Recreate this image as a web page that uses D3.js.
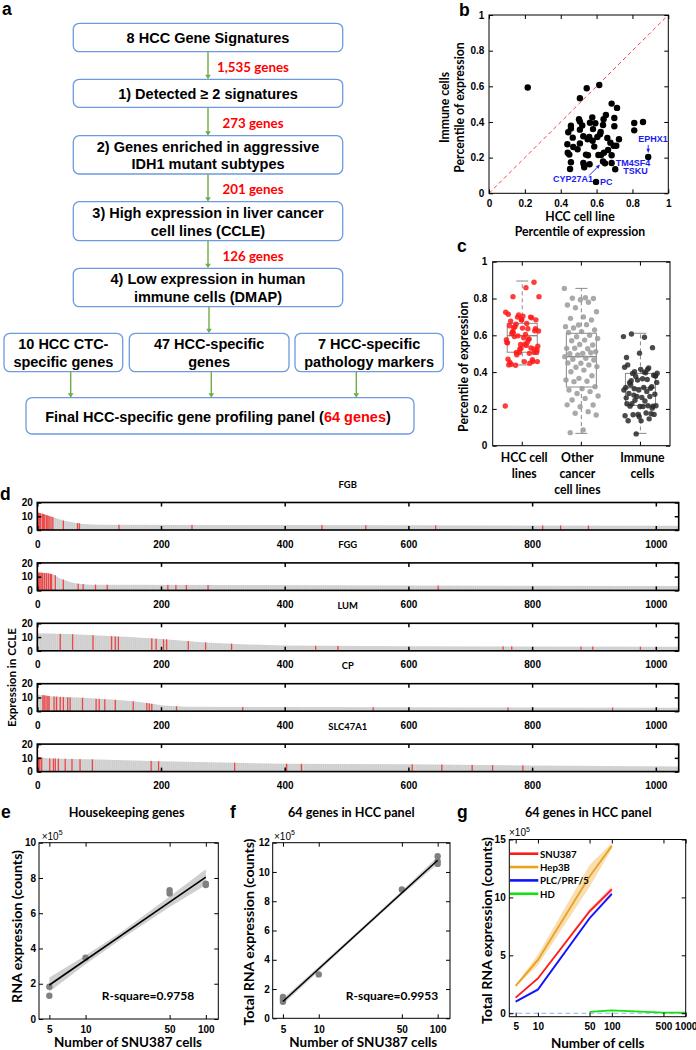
<!DOCTYPE html>
<html><head><meta charset="utf-8">
<script src="https://cdn.jsdelivr.net/npm/d3@7/dist/d3.min.js"></script>
<style>html,body{margin:0;padding:0;background:#fff}</style>
</head><body>
<svg id="fig" width="696" height="1050" xmlns="http://www.w3.org/2000/svg"></svg>
<script>
// ================= DATA =================
// Panel a
const flowSteps = ["8 HCC Gene Signatures", "1) Detected \u2265 2 signatures",
  "2) Genes enriched in aggressive\nIDH1 mutant subtypes",
  "3) High expression in liver cancer\ncell lines (CCLE)",
  "4) Low expression in human\nimmune cells (DMAP)"];
const stepCounts = ["1,535 genes", "273 genes", "201 genes", "126 genes"];
const subsetLabels = ["10 HCC CTC-\nspecific genes", "47 HCC-specific\ngenes", "7 HCC-specific\npathology markers"];
const finalLabel = ["Final HCC-specific gene profiling panel (", "64 genes", ")"];

// Panel b (percentile of expression per gene)
const hccPct = [0.216,0.545,0.615,0.507,0.684,0.714,0.502,0.507,0.457,0.457,
  0.442,0.467,0.507,0.576,0.563,0.593,0.636,0.639,0.652,0.699,
  0.699,0.623,0.604,0.619,0.526,0.550,0.559,0.578,0.437,0.507,
  0.587,0.677,0.695,0.710,0.725,0.664,0.641,0.625,0.684,0.439,
  0.448,0.494,0.541,0.552,0.610,0.457,0.526,0.561,0.636,0.647,
  0.684,0.704,0.452,0.531,0.597,0.810,0.859,0.810,0.888,0.530,
  0.47,0.58,0.66,0.52];
const immunePct = [0.593,0.589,0.607,0.533,0.503,0.479,0.415,0.402,0.379,0.364,
  0.342,0.312,0.357,0.426,0.396,0.393,0.383,0.415,0.439,0.422,
  0.376,0.344,0.316,0.331,0.320,0.303,0.316,0.295,0.275,0.280,
  0.262,0.284,0.267,0.267,0.303,0.243,0.228,0.215,0.213,0.228,
  0.217,0.247,0.217,0.213,0.215,0.174,0.170,0.163,0.178,0.168,
  0.170,0.135,0.136,0.146,0.064,0.394,0.400,0.353,0.204,0.157,
  0.26,0.36,0.31,0.38];
const bAnnot = [
  {gene:"EPHX1",   x:0.888, y:0.204},
  {gene:"TM4SF4",  x:0.684, y:0.170},
  {gene:"TSKU",    x:0.704, y:0.135},
  {gene:"CYP27A1", x:0.625, y:0.178},
  {gene:"PC",      x:0.597, y:0.064}];

// Panel c
const cCats = ["HCC cell\nlines", "Other\ncancer\ncell lines", "Immune\ncells"];
const otherPct = [0.855,0.804,0.801,0.80,0.793,0.765,0.78,0.75,0.728,0.70,0.692,0.683,0.656,0.647,0.658,0.64,
  0.629,0.62,0.615,0.60,0.592,0.583,0.574,0.57,0.547,0.55,0.529,0.527,0.53,0.511,0.502,0.50,0.505,0.493,
  0.484,0.475,0.47,0.466,0.448,0.45,0.439,0.426,0.43,0.411,0.402,0.38,0.366,0.357,0.35,0.348,0.321,
  0.31,0.303,0.294,0.284,0.27,0.257,0.248,0.221,0.212,0.222,0.185,0.176,0.167,0.085,0.071];
const boxQ1 = [0.508, 0.319, 0.219];
const boxMed = [0.598, 0.484, 0.315];
const boxQ3 = [0.665, 0.611, 0.393];
const whiskLo = [0.439, 0.067, 0.067];
const whiskHi = [0.895, 0.855, 0.611];

// Panel d (expression in CCLE, cell lines ranked)
const dGenes = ["FGB", "FGG", "LUM", "CP", "SLC47A1"];
const dProfiles = [
  [[0,12.6],[5,12.2],[15,10.8],[26,9.3],[42,6.9],[61,5.2],[74,4.4],[100,3.9],[300,3.7],[600,3.4],[1037,3.1]],
  [[0,13.0],[18,12.4],[28,11.2],[37,8.6],[53,6.1],[66,4.9],[85,4.2],[300,3.9],[600,3.6],[1037,3.2]],
  [[0,12.8],[50,12.2],[100,11.1],[150,10.0],[200,8.5],[272,6.1],[330,4.8],[400,3.8],[600,3.3],[1037,3.0]],
  [[0,12.0],[20,10.9],[74,9.8],[126,8.3],[160,7.0],[185,5.4],[205,4.2],[240,3.3],[400,3.0],[1037,2.6]],
  [[0,10.6],[20,9.6],[100,8.8],[200,7.6],[300,6.6],[400,5.7],[600,5.3],[800,4.5],[1037,3.7]]];
const dRed = [
  [[2,12.6],[3,12.4],[5,12.2],[8,11.9],[10,11.6],[12,11.3],[15,10.8],[17,10.5],[19,10.2],[22,9.8],[25,9.4],
   [42,6.9],[65,5.0],[68,4.8],[132,3.8],[250,3.7],[460,3.6],[531,3.5],[644,3.4],[817,3.3],[846,3.3],[891,3.2]],
  [[2,13.0],[4,12.9],[6,12.9],[8,12.8],[11,12.7],[12,12.7],[15,12.6],[18,12.4],[21,12.1],[23,11.9],[29,11.0],
   [42,7.9],[66,4.9],[74,4.6],[94,4.2],[113,4.1],[211,4.0],[224,4.0],[241,3.9],[276,3.9],[648,3.5]],
  [[37,12.3],[57,12.0],[90,11.3],[120,10.6],[126,10.4],[131,10.3],[185,9.0],[192,8.8],[204,8.4],[209,8.3],
   [244,7.1],[272,6.1],[314,5.2],[450,3.6],[486,3.5],[753,3.2],[767,3.2],[879,3.1],[898,3.1],[975,3.0]],
  [[9,11.7],[11,11.6],[14,11.4],[17,11.2],[19,11.0],[27,10.7],[31,10.6],[37,10.4],[42,10.3],[49,10.1],[53,10.0],
   [73,9.8],[95,9.0],[100,8.9],[109,8.6],[126,8.3],[155,7.2],[177,6.0],[181,5.7],[185,5.4],[225,3.6],[332,3.0],
   [543,2.9],[761,2.8],[930,2.7]],
  [[2,10.5],[4,10.4],[7,10.2],[20,9.6],[26,9.5],[29,9.5],[34,9.4],[45,9.3],[56,9.2],[69,9.0],[89,8.9],
   [184,7.8],[196,7.6],[319,6.5],[403,5.7],[427,5.6],[606,5.3],[654,5.1],[703,4.9],[736,4.7],[785,4.5]]];
const dXTicks = [0,200,400,600,800,1000];
const dYTicks = [0,10,20];

// Panel e (housekeeping genes, x10^5 counts)
const eCells = [5,5,10,50,50,100,100];
const eCounts = [1.83,1.32,3.48,7.30,7.12,7.67,7.60];
const eFitX = [5,100], eFitY = [1.93,8.05];
const eBandX = [5,10,20,50,100];
const eBandLo = [1.55,3.10,4.55,6.35,7.60];
const eBandHi = [2.35,3.60,4.95,6.95,8.50];
const eRsq = "R-square=0.9758";

// Panel f (64 genes, x10^5 counts)
const fCells = [5,5,5,10,50,100,100,100];
const fCounts = [1.46,1.30,1.13,3.00,8.80,11.07,10.73,10.55];
const fFitX = [5,100], fFitY = [1.15,10.8];
const fBandX = [5,10,20,50,100];
const fBandLo = [0.95,3.22,5.50,8.43,10.55];
const fBandHi = [1.35,3.54,5.74,8.71,11.05];
const fRsq = "R-square=0.9953";

// Panel g (64 genes by cell line, x10^5 counts)
const gCells = [5,10,50,100];
const gSeries = ["SNU387","Hep3B","PLC/PRF/5","HD"];
const snu387 = [1.35,3.00,8.80,10.70];
const snu387Lo = [1.28,2.88,8.60,10.45], snu387Hi = [1.42,3.12,9.00,10.95];
const hep3b = [2.36,4.60,11.8,14.45];
const hep3bLo = [2.28,4.15,10.9,14.20], hep3bHi = [2.45,5.05,12.8,14.70];
const plc = [1.00,2.05,8.20,10.30];
const plcLo = [0.95,1.90,8.05,10.15], plcHi = [1.05,2.20,8.35,10.45];
const hdCells = [50,100,500,1000];
const hd = [0.12,0.25,0.05,0.05];

// ================= DRAW =================
const ARIAL = "'Liberation Sans', Arial, Helvetica, sans-serif";
const CAL = "Lato, 'Open Sans', sans-serif";
const svg = d3.select("#fig");
svg.append("rect").attr("width",696).attr("height",1050).attr("fill","#fff");

// font size that makes string s span width w (bold)
function sizeFor(s, w, ff, base = 12) {
  const t = svg.append("text").attr("font-family", ff).attr("font-weight", "bold").attr("font-size", base).text(s);
  const L = t.node().getComputedTextLength(); t.remove();
  return L > 0 ? base * w / L : base;
}
function txt(g, x, y, s, o = {}) {
  const t = g.append("text").attr("x", x).attr("y", y).text(s)
    .attr("font-family", o.ff || ARIAL).attr("font-size", o.fs || 10)
    .attr("font-weight", o.fw || "bold").attr("fill", o.fill || "#000")
    .attr("text-anchor", o.anchor || "middle").attr("dominant-baseline", o.db || "central");
  if (o.rot) t.attr("transform", `rotate(${o.rot},${x},${y})`);
  if (o.w) { // scale font so the text spans the measured width of the reference
    const L = t.node().getComputedTextLength();
    if (L > 0) t.attr("font-size", (o.fs || 10) * o.w / L);
  }
  return t;
}
function multiline(g, cx, cy, lines, lh, o) {
  lines.forEach((l, i) => txt(g, cx, cy + (i - (lines.length - 1) / 2) * lh, l, o));
}
function axes(g, x, y, o) {
  const [x0, x1] = x.range(), [yb, yt] = y.range();
  const tl = o.tl ?? 4;
  const style = sel => {
    sel.select(".domain").remove();
    sel.selectAll("line").attr("stroke", "#000").attr("stroke-width", o.tw || 1);
    sel.selectAll("text").attr("font-family", ARIAL).attr("font-weight", "bold")
      .attr("font-size", o.fs || 10).attr("fill", "#000");
  };
  if (o.xTicks) {
    g.append("g").attr("transform", `translate(0,${yb})`)
      .call(d3.axisBottom(x).tickValues(o.xTicks).tickFormat(o.fmtX || (d => d)).tickSizeInner(-tl).tickSizeOuter(0).tickPadding(o.xPad ?? 6))
      .call(style);
    g.append("g").attr("transform", `translate(0,${yt})`)
      .call(d3.axisTop(x).tickValues(o.xTicks).tickFormat("").tickSizeInner(-tl).tickSizeOuter(0))
      .call(style);
  }
  if (o.yTicks) {
    g.append("g").attr("transform", `translate(${x0},0)`)
      .call(d3.axisLeft(y).tickValues(o.yTicks).tickFormat(o.fmtY || (d => d)).tickSizeInner(-tl).tickSizeOuter(0).tickPadding(o.yPad ?? 4))
      .call(style);
    g.append("g").attr("transform", `translate(${x1},0)`)
      .call(d3.axisRight(y).tickValues(o.yTicks).tickFormat("").tickSizeInner(-tl).tickSizeOuter(0))
      .call(style);
  }
  g.append("rect").attr("x", x0).attr("y", yt).attr("width", x1 - x0).attr("height", yb - yt)
    .attr("fill", "none").attr("stroke", "#000").attr("stroke-width", o.sw || 1);
}

// panel letters
[["a",2,15],["b",459,16],["c",457,252],["d",0,500],["e",1,818],["f",230,818],["g",457,818]]
  .forEach(([l, x, y]) => txt(svg, x, y, l, {fs: 17.5, anchor: "start", db: "auto"}));

// ---------- Panel a ----------
const A = svg.append("g");
const boxStroke = "#6c9be0", green = "#70ad47";
function rbox(x0, y0, x1, y1) {
  A.append("rect").attr("x", x0).attr("y", y0).attr("width", x1 - x0).attr("height", y1 - y0)
    .attr("rx", 6).attr("fill", "#fff").attr("stroke", boxStroke).attr("stroke-width", 1.3);
}
function arrow(x, y1, y2) {
  A.append("line").attr("x1", x).attr("x2", x).attr("y1", y1).attr("y2", y2 - 3)
    .attr("stroke", green).attr("stroke-width", 1.4);
  A.append("path").attr("d", `M${x - 2.8},${y2 - 4.5}L${x + 2.8},${y2 - 4.5}L${x},${y2}Z`).attr("fill", green);
}
const stepBoxY = [[23.3,51.7],[79.3,107.3],[135.7,174],[201.7,240.7],[268.3,306.7]];
const boxText = {fs: 14.5};
const countFs = sizeFor("1,535 genes", 72, CAL);
flowSteps.forEach((s, i) => {
  const [y0, y1] = stepBoxY[i];
  rbox(73.3, y0, 342.7, y1);
  multiline(A, 208, (y0 + y1) / 2 + 0.5, s.split("\n"), 17.6, boxText);
  if (i < flowSteps.length - 1) {
    arrow(208, y1, stepBoxY[i + 1][0]);
    txt(A, 253, (y1 + stepBoxY[i + 1][0]) / 2 + 1, stepCounts[i], {ff: CAL, fs: countFs, fill: "#ff0000"});
  }
});
const subX = [[4,122.7],[129.3,289],[295,443.3]];
arrow(209, 306.7, 333.3);
subsetLabels.forEach((s, i) => {
  const [x0, x1] = subX[i];
  rbox(x0, 333.3, x1, 371.7);
  multiline(A, (x0 + x1) / 2, 353, s.split("\n"), 17.6, boxText);
});
rbox(26, 397.7, 414, 434);
[70.7, 211.3, 356.3].forEach(x => arrow(x, 371.7, 397.7));
{
  const t = A.append("text").attr("x", 218).attr("y", 416.5).attr("text-anchor", "middle")
    .attr("dominant-baseline", "central").attr("font-family", ARIAL).attr("font-weight", "bold").attr("font-size", 14.5);
  finalLabel.forEach((p, i) => t.append("tspan").text(p).attr("fill", i === 1 ? "#ff0000" : "#000"));
}

// ---------- Panel b ----------
const B = svg.append("g");
const bx = d3.scaleLinear([0, 1], [489, 668.3]), by = d3.scaleLinear([0, 1], [193.3, 15]);
const pctFmt = d => String(+d.toFixed(1));
const titleFsB = sizeFor("Percentile of expression", 130.5, CAL);
B.append("line").attr("x1", bx(0)).attr("y1", by(0)).attr("x2", bx(1)).attr("y2", by(1))
  .attr("stroke", "#ff4040").attr("stroke-width", 1).attr("stroke-dasharray", "4,3");
B.selectAll("circle.pt").data(hccPct).join("circle").attr("class", "pt")
  .attr("cx", d => bx(d)).attr("cy", (d, i) => by(immunePct[i])).attr("r", 3.2).attr("fill", "#000");
axes(B, bx, by, {xTicks: [0,.2,.4,.6,.8,1], yTicks: [0,.2,.4,.6,.8,1], fmtX: pctFmt, fmtY: pctFmt, xPad: 6.4, yPad: 4.7});
const blue = "#1c1cf0";
const annOff = {EPHX1: [-10, -18, "start"], TM4SF4: [4, 0, "start"], TSKU: [8, 2, "start"], CYP27A1: [-48, 17, "start"], PC: [4, 0.5, "start"]};
bAnnot.forEach(a => {
  const px = bx(a.x), py = by(a.y), [dx, dy, an] = annOff[a.gene];
  txt(B, px + dx, py + dy, a.gene, {fs: 9, fill: blue, anchor: an});
});
function barrow(x1, y1, x2, y2) {
  const ang = Math.atan2(y2 - y1, x2 - x1);
  B.append("line").attr("x1", x1).attr("y1", y1).attr("x2", x2 - 3 * Math.cos(ang)).attr("y2", y2 - 3 * Math.sin(ang))
    .attr("stroke", blue).attr("stroke-width", 0.9);
  const p = (r, da) => [x2 - r * Math.cos(ang + da), y2 - r * Math.sin(ang + da)];
  B.append("path").attr("d", `M${x2},${y2}L${p(4.5, 0.4)}L${p(4.5, -0.4)}Z`).attr("fill", blue);
}
{
  const e = bAnnot[0]; barrow(bx(e.x), by(e.y) - 12, bx(e.x), by(e.y) - 4);
  const c = bAnnot[3]; barrow(bx(c.x) - 12, by(c.y) + 14, bx(c.x) - 1, by(c.y) + 3);
}
txt(B, 444, 107.5, "Immune cells", {ff: CAL, fs: titleFsB, rot: -90});
txt(B, 459, 107.5, "Percentile of expression", {ff: CAL, fs: titleFsB, rot: -90});
txt(B, 580, 216, "HCC cell line", {ff: CAL, fs: titleFsB});
txt(B, 580, 231.5, "Percentile of expression", {ff: CAL, fs: titleFsB});

// ---------- Panel c ----------
const C = svg.append("g");
const cx = d3.scaleBand(cCats, [492.7, 670]);
const cy = d3.scaleLinear([0, 1], [445.7, 261.7]);
const cVals = [hccPct, otherPct, immunePct];
const cCols = ["#ff1a1a", "#9a9a9a", "#2a2a2a"];
const boxGray = "#8a8a8a";
cCats.forEach((cat, k) => {
  const m = cx(cat) + cx.bandwidth() / 2, hw = 15;
  C.append("line").attr("x1", m).attr("x2", m).attr("y1", cy(boxQ3[k])).attr("y2", cy(whiskHi[k]))
    .attr("stroke", boxGray).attr("stroke-dasharray", "4,3");
  C.append("line").attr("x1", m).attr("x2", m).attr("y1", cy(boxQ1[k])).attr("y2", cy(whiskLo[k]))
    .attr("stroke", boxGray).attr("stroke-dasharray", "4,3");
  [whiskHi[k], whiskLo[k]].forEach(v => C.append("line").attr("x1", m - 6).attr("x2", m + 6)
    .attr("y1", cy(v)).attr("y2", cy(v)).attr("stroke", boxGray));
  C.append("rect").attr("x", m - hw).attr("y", cy(boxQ3[k])).attr("width", 2 * hw)
    .attr("height", cy(boxQ1[k]) - cy(boxQ3[k])).attr("fill", "none").attr("stroke", boxGray);
  C.append("line").attr("x1", m - hw).attr("x2", m + hw).attr("y1", cy(boxMed[k])).attr("y2", cy(boxMed[k]))
    .attr("stroke", boxGray).attr("stroke-width", 1.4);
  C.append("g").selectAll("circle").data(cVals[k]).join("circle")
    .attr("cx", (d, i) => m + (((i * 0.6180339887) % 1) - 0.5) * 34)
    .attr("cy", d => cy(d)).attr("r", 2.7).attr("fill", cCols[k]).attr("fill-opacity", 0.85);
  cat.split("\n").forEach((l, j) => txt(C, m + (k === 1 ? -4 : 2), 457 + j * 16.2, l, {ff: CAL, fs: titleFsB}));
});
axes(C, d3.scaleLinear([0, 1], [492.7, 670]), cy, {yTicks: [0,.2,.4,.6,.8,1], fmtY: pctFmt, yPad: 5.4});
cCats.forEach(cat => {
  const m = cx(cat) + cx.bandwidth() / 2;
  C.append("line").attr("x1", m).attr("x2", m).attr("y1", cy(0)).attr("y2", cy(0) - 4).attr("stroke", "#000");
  C.append("line").attr("x1", m).attr("x2", m).attr("y1", cy(1)).attr("y2", cy(1) + 4).attr("stroke", "#000");
});
txt(C, 464, 366.7, "Percentile of expression", {ff: CAL, fs: titleFsB, rot: -90});

// ---------- Panel d ----------
const D = svg.append("g");
const defs = svg.append("defs");
const pat = defs.append("pattern").attr("id", "stripes").attr("width", 1.9).attr("height", 6).attr("patternUnits", "userSpaceOnUse");
pat.append("rect").attr("width", 1.9).attr("height", 6).attr("fill", "#d7d7d7");
pat.append("rect").attr("width", 0.55).attr("height", 6).attr("fill", "#c4c4c4");
const dX = d3.scaleLinear([0, 1037], [37.3, 678.7]);
const dTitleFs = sizeFor("FGB", 18.3, CAL);
dGenes.forEach((gene, i) => {
  const top = 502.5 + i * 60.4, bot = top + 27.5;
  const y = d3.scaleLinear([0, 20], [bot, top]);
  const g = D.append("g");
  g.append("path").datum(dProfiles[i])
    .attr("d", d3.area().x(d => dX(d[0])).y0(y(0)).y1(d => y(d[1])))
    .attr("fill", "url(#stripes)");
  g.selectAll("rect.red").data(dRed[i]).join("rect").attr("class", "red")
    .attr("x", d => dX(d[0]) - 0.6).attr("width", 1.3)
    .attr("y", d => y(d[1])).attr("height", d => y(0) - y(d[1])).attr("fill", "#f04545");
  axes(g, dX, y, {xTicks: dXTicks, yTicks: dYTicks, tl: 4, tw: 1.5, sw: 1.6, xPad: 10.4, yPad: 4.5});
  txt(g, 347.7, top - 18, gene, {ff: CAL, fs: dTitleFs});
});
txt(D, 11.7, 677.5, "Expression in CCLE", {ff: CAL, fs: 12.3, rot: -90, w: 99});

// ---------- helpers for e,f,g ----------
function x105(g, x, y) {
  const t = g.append("text").attr("x", x).attr("y", y).attr("font-family", ARIAL).attr("font-size", 10).attr("fill", "#000");
  t.append("tspan").text("\u00d710");
  t.append("tspan").text("5").attr("font-size", 7).attr("dy", -4.5);
}
const logFmt = d => d;
const titleFs = sizeFor("Housekeeping genes", 116, CAL);
const xTitleFs = sizeFor("Number of SNU387 cells", 148, CAL);
const yTitleFs = sizeFor("RNA expression (counts)", 153, CAL);
const rsqFs = sizeFor(eRsq, 92.6, CAL);

// ---------- Panel e ----------
const E = svg.append("g");
const ex = d3.scaleLog([4.1, 127], [39, 218.3]), ey = d3.scaleLinear([0, 10], [1019, 842.7]);
E.append("path").datum(eBandX.map((v, i) => [v, eBandLo[i], eBandHi[i]]))
  .attr("d", d3.area().x(d => ex(d[0])).y0(d => ey(d[1])).y1(d => ey(d[2])))
  .attr("fill", "#cfcfcf");
E.selectAll("circle").data(eCells).join("circle").attr("cx", d => ex(d)).attr("cy", (d, i) => ey(eCounts[i]))
  .attr("r", 3.2).attr("fill", "#808080");
E.append("path").datum(eFitX.map((v, i) => [v, eFitY[i]]))
  .attr("d", d3.line().x(d => ex(d[0])).y(d => ey(d[1]))).attr("stroke", "#000").attr("stroke-width", 1.6).attr("fill", "none");
axes(E, ex, ey, {xTicks: [5,10,50,100], yTicks: [0,2,4,6,8,10], fmtX: logFmt, xPad: 6.7, yPad: 3});
x105(E, 41.7, 839.5);
txt(E, 126.7, 812.7, "Housekeeping genes", {ff: CAL, fs: titleFs});
txt(E, 128, 1041.8, "Number of SNU387 cells", {ff: CAL, fs: xTitleFs});
txt(E, 16, 926.5, "RNA expression (counts)", {ff: CAL, fs: yTitleFs, rot: -90});
txt(E, 148, 995.7, eRsq, {ff: CAL, fs: rsqFs});

// ---------- Panel f ----------
const F = svg.append("g");
const fx = d3.scaleLog([4.1, 127], [272.7, 450]), fy = d3.scaleLinear([0, 12], [1018.3, 842.7]);
F.append("path").datum(fBandX.map((v, i) => [v, fBandLo[i], fBandHi[i]]))
  .attr("d", d3.area().x(d => fx(d[0])).y0(d => fy(d[1])).y1(d => fy(d[2])))
  .attr("fill", "#d4d4d4");
F.selectAll("circle").data(fCells).join("circle").attr("cx", d => fx(d)).attr("cy", (d, i) => fy(fCounts[i]))
  .attr("r", 3.2).attr("fill", "#808080");
F.append("path").datum(fFitX.map((v, i) => [v, fFitY[i]]))
  .attr("d", d3.line().x(d => fx(d[0])).y(d => fy(d[1]))).attr("stroke", "#000").attr("stroke-width", 1.6).attr("fill", "none");
axes(F, fx, fy, {xTicks: [5,10,50,100], yTicks: [0,2,4,6,8,10,12], fmtX: logFmt, xPad: 7.4, yPad: 2.8});
x105(F, 274, 839.5);
txt(F, 351.3, 812.7, "64 genes in HCC panel", {ff: CAL, fs: titleFs});
txt(F, 363.3, 1041.8, "Number of SNU387 cells", {ff: CAL, fs: xTitleFs});
txt(F, 248.3, 932, "Total RNA expression (counts)", {ff: CAL, fs: yTitleFs, rot: -90});
txt(F, 392, 995, fRsq, {ff: CAL, fs: rsqFs});

// ---------- Panel g ----------
const G = svg.append("g");
const gx = d3.scaleLog([4.1, 1000], [509.3, 685.7]), gy = d3.scaleLinear([-0.3, 15], [1016.7, 839.5]);
const gCols = ["#ff1a1a", "#eca21c", "#1010ff", "#14e014"];
const gBandCols = ["#ffb4b4", "#f6d49a", "#b4b4ff"];
const gMain = [snu387, hep3b, plc], gLo = [snu387Lo, hep3bLo, plcLo], gHi = [snu387Hi, hep3bHi, plcHi];
G.append("line").attr("x1", gx(4.1)).attr("x2", gx(1000)).attr("y1", gy(0)).attr("y2", gy(0))
  .attr("stroke", "#8fb4e4").attr("stroke-width", 1).attr("stroke-dasharray", "5,3");
[1, 0, 2].forEach(k => {
  G.append("path").datum(gCells.map((c, i) => [c, gLo[k][i], gHi[k][i]]))
    .attr("d", d3.area().x(d => gx(d[0])).y0(d => gy(d[1])).y1(d => gy(d[2])))
    .attr("fill", gBandCols[k]).attr("fill-opacity", 0.75);
});
[1, 0, 2].forEach(k => {
  G.append("path").datum(gCells.map((c, i) => [c, gMain[k][i]]))
    .attr("d", d3.line().x(d => gx(d[0])).y(d => gy(d[1])))
    .attr("stroke", gCols[k]).attr("stroke-width", 1.8).attr("fill", "none");
});
G.append("path").datum(hdCells.map((c, i) => [c, hd[i]]))
  .attr("d", d3.line().x(d => gx(d[0])).y(d => gy(d[1])))
  .attr("stroke", gCols[3]).attr("stroke-width", 1.8).attr("fill", "none");
axes(G, gx, gy, {xTicks: [5,10,50,100,500,1000], yTicks: [0,5,10,15], fmtX: logFmt, xPad: 6.4, yPad: 3.6});
x105(G, 509, 836);
const legFs = sizeFor("SNU387", 36.7, CAL);
gSeries.forEach((s, i) => {
  const yy = 853.7 + i * 13.35;
  G.append("line").attr("x1", 510).attr("x2", 538.3).attr("y1", yy).attr("y2", yy)
    .attr("stroke", gCols[i]).attr("stroke-width", 2.6);
  txt(G, 540, yy, s, {ff: CAL, fs: legFs, anchor: "start"});
});
txt(G, 588.3, 812.7, "64 genes in HCC panel", {ff: CAL, fs: titleFs});
txt(G, 597.7, 1042.5, "Number of cells", {ff: CAL, fs: xTitleFs});
txt(G, 486.7, 930.5, "Total RNA expression (counts)", {ff: CAL, fs: yTitleFs, rot: -90});
</script>
</body></html>
